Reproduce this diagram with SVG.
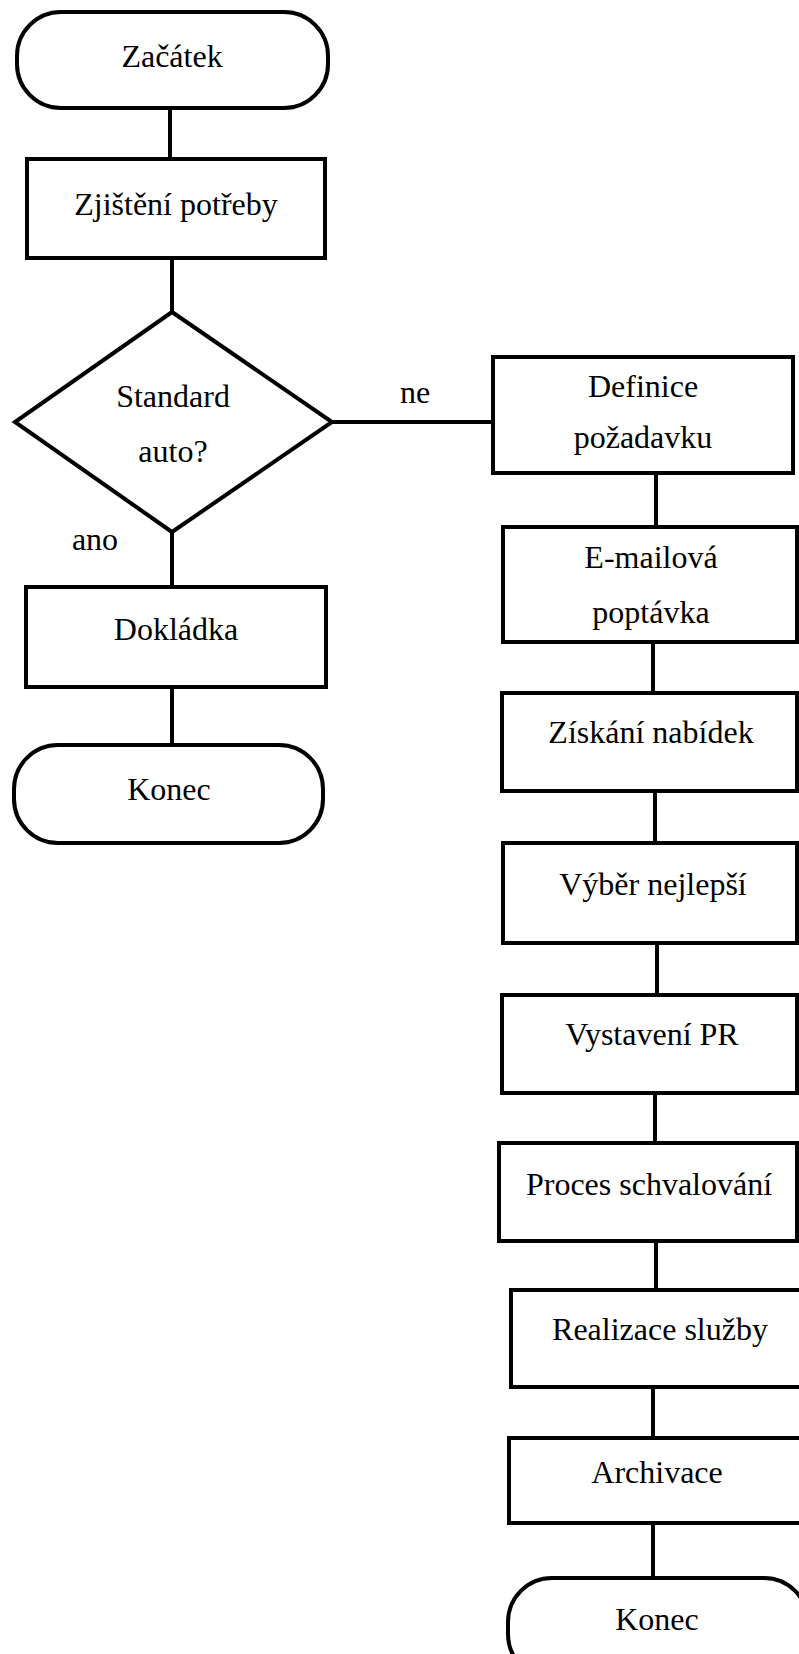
<svg xmlns="http://www.w3.org/2000/svg" width="799" height="1654" viewBox="0 0 799 1654">
<style>
.s{fill:#fff;stroke:#000;stroke-width:4}
.c{fill:none;stroke:#000;stroke-width:4}
text{font-family:"Liberation Serif","Times New Roman",serif;font-size:32px;fill:#000;text-anchor:middle}
</style>
<rect width="799" height="1654" fill="#fff"/>
<g id="connectors">
<line class="c" x1="170" y1="108" x2="170" y2="159"/>
<line class="c" x1="172" y1="258" x2="172" y2="312"/>
<line class="c" x1="332" y1="422" x2="493" y2="422"/>
<line class="c" x1="172" y1="532" x2="172" y2="587"/>
<line class="c" x1="172" y1="687" x2="172" y2="745"/>
<line class="c" x1="656" y1="473" x2="656" y2="527"/>
<line class="c" x1="653" y1="642" x2="653" y2="693"/>
<line class="c" x1="655" y1="791" x2="655" y2="843"/>
<line class="c" x1="657" y1="943" x2="657" y2="995"/>
<line class="c" x1="655" y1="1093" x2="655" y2="1143"/>
<line class="c" x1="656" y1="1241" x2="656" y2="1290"/>
<line class="c" x1="653" y1="1387" x2="653" y2="1438"/>
<line class="c" x1="653" y1="1523" x2="653" y2="1578"/>
<text x="415" y="403">ne</text>
<text x="95" y="550">ano</text>
</g>
<g id="start"><rect class="s" x="17" y="12" width="311" height="96" rx="44" ry="44"/><text x="172" y="67">Začátek</text></g>
<g id="zjisteni"><rect class="s" x="27" y="159" width="298" height="99"/><text x="176" y="215">Zjištění potřeby</text></g>
<g id="decision"><polygon class="s" points="172,312 332,422 172,532 15,422"/><text x="173" y="407">Standard</text><text x="173" y="462">auto?</text></g>
<g id="dokladka"><rect class="s" x="26" y="587" width="300" height="100"/><text x="176" y="640">Dokládka</text></g>
<g id="konec1"><rect class="s" x="14" y="745" width="309" height="98" rx="44" ry="44"/><text x="169" y="800">Konec</text></g>
<g id="definice"><rect class="s" x="493" y="357" width="300" height="116"/><text x="643" y="397">Definice</text><text x="643" y="448">požadavku</text></g>
<g id="email"><rect class="s" x="503" y="527" width="294" height="115"/><text x="651" y="568">E-mailová</text><text x="651" y="623">poptávka</text></g>
<g id="ziskani"><rect class="s" x="502" y="693" width="295" height="98"/><text x="651" y="743">Získání nabídek</text></g>
<g id="vyber"><rect class="s" x="503" y="843" width="294" height="100"/><text x="653" y="895">Výběr nejlepší</text></g>
<g id="vystaveni"><rect class="s" x="502" y="995" width="295" height="98"/><text x="652" y="1045">Vystavení PR</text></g>
<g id="proces"><rect class="s" x="499" y="1143" width="298" height="98"/><text x="649" y="1195">Proces schvalování</text></g>
<g id="realizace"><rect class="s" x="511" y="1290" width="300" height="97"/><text x="660" y="1340">Realizace služby</text></g>
<g id="archivace"><rect class="s" x="509" y="1438" width="300" height="85"/><text x="657" y="1483">Archivace</text></g>
<g id="konec2"><rect class="s" x="508" y="1578" width="300" height="100" rx="44" ry="44"/><text x="657" y="1630">Konec</text></g>
</svg>
